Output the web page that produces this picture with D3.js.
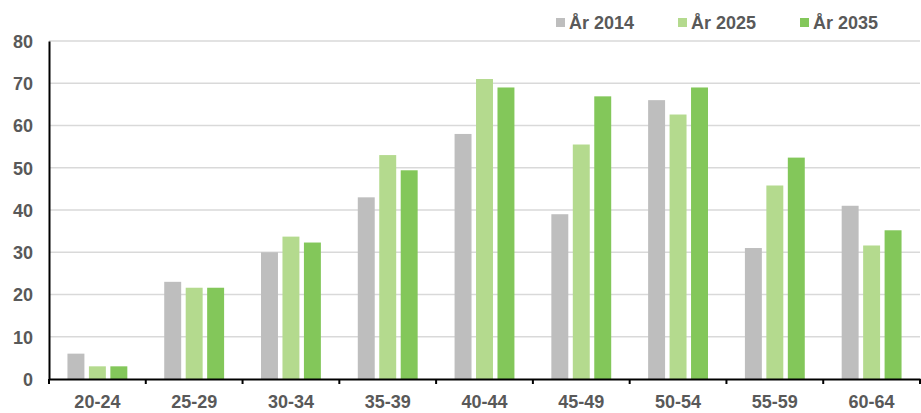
<!DOCTYPE html>
<html>
<head>
<meta charset="utf-8">
<script src="https://cdn.jsdelivr.net/npm/d3@7"></script>
<style>
  body { margin: 0; background: #fff; }
  svg text { font-family: "Liberation Sans", Arial, sans-serif; font-weight: bold; font-size: 18px; fill: #595959; }
</style>
</head>
<body>
<svg width="921" height="413"></svg>
<script>
var ageGroups = ["20-24", "25-29", "30-34", "35-39", "40-44", "45-49", "50-54", "55-59", "60-64"];
var seriesNames = ["År 2014", "År 2025", "År 2035"];
var values2014 = [6, 23, 30, 43, 58, 39, 66, 31, 41];
var values2025 = [3, 21.6, 33.7, 53, 71, 55.5, 62.6, 45.8, 31.6];
var values2035 = [3, 21.6, 32.3, 49.4, 69, 66.9, 69, 52.4, 35.2];
var yTicks = [0, 10, 20, 30, 40, 50, 60, 70, 80];
var colors = ["#bebebe", "#b4da8e", "#83c75a"];

var margin = {top: 41, right: 1, bottom: 34, left: 49},
    width = 921 - margin.left - margin.right,
    height = 413 - margin.top - margin.bottom;

var svg = d3.select("svg")
  .append("g")
  .attr("transform", "translate(" + margin.left + "," + margin.top + ")");

var x0 = d3.scaleBand().domain(ageGroups).range([0, width]);
var x1 = d3.scaleBand().domain(seriesNames).range([0, x0.bandwidth()])
  .paddingInner(0.21).paddingOuter(0.86);
var y = d3.scaleLinear().domain([0, 80]).range([height, 0]);

//Gridlines
svg.append("g")
  .selectAll("line")
  .data(yTicks.filter(function(d){ return d > 0; }))
  .enter()
  .append("line")
  .attr("x1", 0)
  .attr("x2", width)
  .attr("y1", function(d){ return y(d); })
  .attr("y2", function(d){ return y(d); })
  .attr("stroke", "#d9d9d9")
  .attr("stroke-width", 1.5);

//Bars
var allSeries = [values2014, values2025, values2035];
var rows = [];
ageGroups.forEach(function(g, i) {
  seriesNames.forEach(function(s, j) {
    rows.push({group: g, series: s, value: allSeries[j][i], color: colors[j]});
  });
});

svg.append("g")
  .selectAll("rect")
  .data(rows)
  .enter()
  .append("rect")
  .attr("x", function(d){ return x0(d.group) + x1(d.series); })
  .attr("y", function(d){ return y(d.value); })
  .attr("width", x1.bandwidth())
  .attr("height", function(d){ return height - y(d.value); })
  .attr("fill", function(d){ return d.color; });

//Y axis
var yAxis = d3.axisLeft(y).tickValues(yTicks).tickSize(0).tickPadding(16);
var yg = svg.append("g").call(yAxis);
yg.select(".domain").attr("stroke", "#000").attr("stroke-width", 2);
yg.selectAll("text").attr("dy", "0.35em");

//X axis
var xAxis = d3.axisBottom(x0).tickSize(0).tickPadding(16);
var xg = svg.append("g")
  .attr("transform", "translate(0," + height + ")")
  .call(xAxis);
xg.select(".domain").attr("stroke", "#000").attr("stroke-width", 2);
xg.selectAll("text").attr("dy", "0.71em");

//Ticks between categories
var bounds = ageGroups.map(function(g){ return x0(g); }).concat([width]);
xg.selectAll(".bound")
  .data(bounds)
  .enter()
  .append("line")
  .attr("class", "bound")
  .attr("x1", function(d){ return d; })
  .attr("x2", function(d){ return d; })
  .attr("y1", 0)
  .attr("y2", 5)
  .attr("stroke", "#000")
  .attr("stroke-width", 2);

//Legend
var legendX = [556, 678, 800];
var legend = d3.select("svg").append("g");
seriesNames.forEach(function(s, i) {
  legend.append("rect")
    .attr("x", legendX[i])
    .attr("y", 18)
    .attr("width", 9)
    .attr("height", 9)
    .attr("fill", colors[i]);
  legend.append("text")
    .attr("x", legendX[i] + 13)
    .attr("y", 29)
    .text(s);
});
</script>
</body>
</html>
